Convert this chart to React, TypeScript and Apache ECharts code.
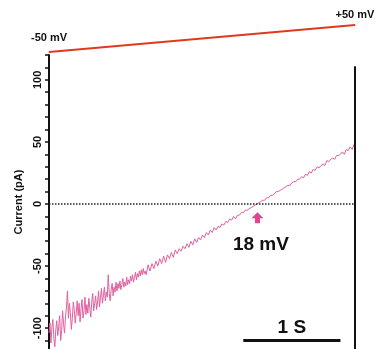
import React, { useEffect, useRef } from "react";
import * as echarts from "echarts";

const T_END = 3.15;

// Current trace (pA), first second sampled every 0.01 s (noisy part)
const EARLY_STEP = 0.01;
const currentEarly: number[] = [
  -104, -96, -112, -99, -93, -108, -115, -101, -94, -106,
  -99, -90, -110, -102, -86, -97, -104, -91, -83, -70,
  -92, -80, -88, -101, -92, -79, -85, -96, -88, -78,
  -90, -80, -95, -84, -77, -92, -86, -75, -89, -81,
  -88, -76, -84, -91, -79, -72, -86, -80, -74, -85,
  -79, -70, -83, -75, -68, -80, -74, -67, -78, -71,
  -75, -57, -72, -78, -69, -64, -74, -67, -71, -63,
  -70, -64, -68, -62, -69, -65, -60, -67, -63, -66,
  -59, -65, -61, -64, -58, -62, -57, -63, -59, -55,
  -61, -56, -59, -54, -58, -53, -57, -52, -56, -54,
];

// Current trace (pA) from 1.00 s onward, sampled every 0.02 s
const LATE_START = 1.0;
const LATE_STEP = 0.02;
const currentLate: number[] = [
  -57, -49, -54, -48, -52, -46, -50, -44, -48, -42,
  -47, -41, -44, -39, -43, -37, -40, -36, -38, -34,
  -36, -32, -35, -30, -33, -28, -31, -27, -29, -25,
  -27, -23, -25, -21, -23, -19, -21, -18, -19, -16,
  -17, -14, -15, -12, -13, -10, -12, -9, -9, -7,
  -7, -5, -5, -4, -3, -2, -1, 0, 1, 2,
  3, 3, 5, 5, 7, 7, 8, 10, 10, 11,
  12, 13, 14, 15, 15, 17, 18, 18, 20, 20,
  22, 21, 24, 23, 26, 25, 28, 27, 30, 29,
  31, 32, 31, 35, 34, 36, 37, 36, 39, 39,
  40, 42, 40, 44, 43, 46, 44, 48,
];

// Voltage ramp (mV)
const rampTimes: number[] = [0, T_END];
const rampVolts: number[] = [-50, 50];
const rampLabels: string[] = ["-50 mV", "+50 mV"];

// Axis ticks / labels (pA)
const tickValues: number[] = [
  -110, -100, -90, -80, -70, -60, -50, -40, -30, -20, -10, 0,
  10, 20, 30, 40, 50, 60, 70, 80, 90, 100, 110, 120,
];
const labelValues: number[] = [-100, -50, 0, 50, 100];

// Annotations
const reversalTime = 2.146;
const reversalLabel = "18 mV";
const scaleBarStart = 2;
const scaleBarEnd = 3;
const scaleBarLevel = -110;
const scaleBarLabel = "1 S";
const borderTop = 111;

const FONT = "'Liberation Sans', Arial, Helvetica, sans-serif";

export default function App() {
  const ref = useRef<HTMLDivElement>(null);
  useEffect(() => {
    if (!ref.current) return;
    const chart = echarts.init(ref.current, undefined, { renderer: "svg" });
    const traceData = [
      ...currentEarly.map((v, i) => [+(i * EARLY_STEP).toFixed(3), v]),
      ...currentLate.map((v, i) => [+(LATE_START + i * LATE_STEP).toFixed(3), v]),
    ];
    const rampData = rampTimes.map((t, i) => ({
      value: [t, rampVolts[i]],
      label: {
        show: true,
        formatter: rampLabels[i],
        position: "top",
        distance: i === 0 ? 9 : 5,
        color: "#111",
        fontWeight: "bold",
        fontSize: 11,
        fontFamily: FONT,
      },
    }));
    chart.setOption({
      animation: false,
      grid: [
        { left: 49, right: 21, top: 55, height: 294 },
        { left: 49, right: 21, top: 25, height: 27 },
      ],
      xAxis: [
        { type: "value", min: 0, max: T_END, show: false, gridIndex: 0 },
        { type: "value", min: 0, max: T_END, show: false, gridIndex: 1 },
      ],
      yAxis: [
        {
          type: "value",
          gridIndex: 0,
          min: -116.8,
          max: 120,
          name: "Current (pA)",
          nameLocation: "middle",
          nameGap: 19,
          nameTextStyle: {
            color: "#111",
            fontWeight: "bold",
            fontSize: 11,
            fontFamily: FONT,
          },
          axisLine: { show: true, lineStyle: { color: "#111", width: 2 } },
          axisTick: {
            show: true,
            length: 4,
            customValues: tickValues,
            lineStyle: { color: "#111", width: 1.5 },
          },
          splitLine: { show: false },
          axisLabel: {
            rotate: 90,
            margin: 7,
            color: "#111",
            fontWeight: "bold",
            fontSize: 11,
            fontFamily: FONT,
            customValues: labelValues,
            formatter: (v: number) => String(v),
          },
        },
        { type: "value", gridIndex: 1, min: -50, max: 50, show: false },
      ],
      series: [
        {
          type: "line",
          xAxisIndex: 0,
          yAxisIndex: 0,
          data: traceData,
          showSymbol: false,
          lineStyle: { color: "#e0609f", width: 1 },
          z: 3,
          markLine: {
            silent: true,
            symbol: "none",
            label: { show: false },
            data: [
              [
                { coord: [0, 0], lineStyle: { color: "#222", type: "dotted", width: 1.5 } },
                { coord: [T_END, 0] },
              ],
              [
                { coord: [T_END, borderTop], lineStyle: { color: "#111", type: "solid", width: 2 } },
                { coord: [T_END, -116.8] },
              ],
              [
                {
                  coord: [scaleBarStart, scaleBarLevel],
                  lineStyle: { color: "#111", type: "solid", width: 3 },
                  label: {
                    show: true,
                    formatter: scaleBarLabel,
                    position: "insideMiddleTop",
                    distance: 5,
                    color: "#111",
                    fontWeight: "bold",
                    fontSize: 19,
                    fontFamily: FONT,
                  },
                },
                { coord: [scaleBarEnd, scaleBarLevel] },
              ],
            ],
          },
          markPoint: {
            silent: true,
            data: [
              {
                coord: [reversalTime, -11],
                symbol: "path://M6,0 L12,6 L8.5,6 L8.5,11 L3.5,11 L3.5,6 L0,6 Z",
                symbolSize: [12, 11],
                itemStyle: { color: "#e0458f" },
                label: { show: false },
              },
              {
                coord: [reversalTime + 0.035, -31.5],
                symbol: "circle",
                symbolSize: 1,
                itemStyle: { color: "rgba(0,0,0,0)" },
                label: {
                  show: true,
                  position: "inside",
                  formatter: reversalLabel,
                  color: "#111",
                  fontWeight: "bold",
                  fontSize: 19,
                  fontFamily: FONT,
                },
              },
            ],
          },
        },
        {
          type: "line",
          xAxisIndex: 1,
          yAxisIndex: 1,
          data: rampData,
          showSymbol: true,
          symbol: "circle",
          symbolSize: 1,
          itemStyle: { color: "#e03a1e" },
          lineStyle: { color: "#e03a1e", width: 2 },
        },
      ],
    });
    return () => chart.dispose();
  }, []);
  return (
    <div
      ref={ref}
      style={{ position: "fixed", left: 0, top: 0, width: 376, height: 349 }}
    />
  );
}
